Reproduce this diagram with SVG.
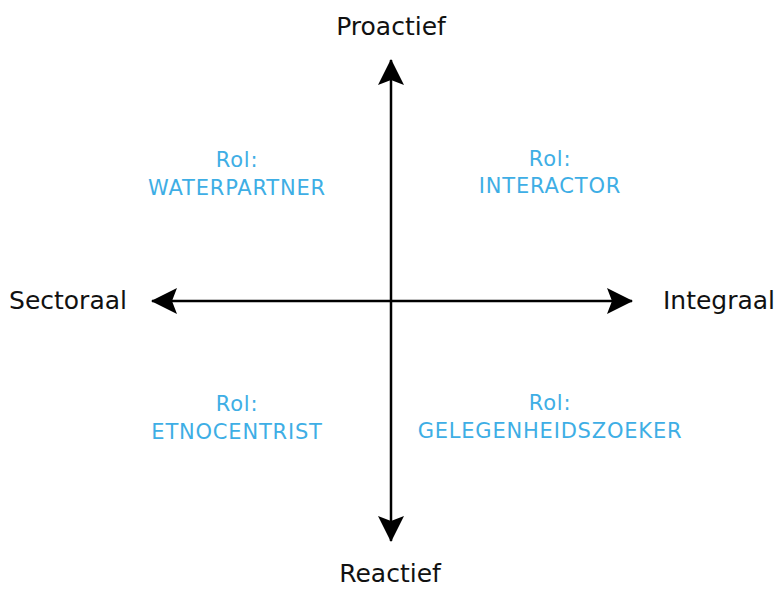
<svg xmlns="http://www.w3.org/2000/svg" width="779" height="590" viewBox="0 0 779 590">
<style>
.ax{font-family:"DejaVu Sans","Liberation Sans",sans-serif;font-size:25px;fill:#111;text-anchor:middle}
.role{font-family:"DejaVu Sans","Liberation Sans",sans-serif;font-size:21px;fill:#3eaee5;text-anchor:middle;letter-spacing:0.8px}
.axis{stroke:#000;stroke-width:2.5;fill:none}
</style>
<defs>
<marker id="ah" viewBox="0 0 26 26" refX="25" refY="13" markerWidth="26" markerHeight="26" markerUnits="userSpaceOnUse" orient="auto">
<path d="M0,0 L26,13 L0,26 L5,13 Z" fill="#000"/>
</marker>
</defs>
<rect width="779" height="590" fill="#fff"/>
<g id="connectors">
<line class="axis" x1="391" y1="301" x2="391" y2="60" marker-end="url(#ah)"/>
<line class="axis" x1="391" y1="301" x2="391" y2="541" marker-end="url(#ah)"/>
<line class="axis" x1="391" y1="301" x2="152" y2="301" marker-end="url(#ah)"/>
<line class="axis" x1="391" y1="301" x2="632" y2="301" marker-end="url(#ah)"/>
</g>
<g id="proactief"><text class="ax" x="391" y="35">Proactief</text></g>
<g id="reactief"><text class="ax" x="390" y="582">Reactief</text></g>
<g id="sectoraal"><text class="ax" x="68" y="309">Sectoraal</text></g>
<g id="integraal"><text class="ax" x="719" y="309">Integraal</text></g>
<g id="waterpartner"><text class="role" x="237" y="167">Rol:</text><text class="role" x="237" y="195">WATERPARTNER</text></g>
<g id="interactor"><text class="role" x="550" y="166">Rol:</text><text class="role" x="550" y="193">INTERACTOR</text></g>
<g id="etnocentrist"><text class="role" x="237" y="411">Rol:</text><text class="role" x="237" y="439">ETNOCENTRIST</text></g>
<g id="gelegenheidszoeker"><text class="role" x="550" y="410">Rol:</text><text class="role" x="550" y="438">GELEGENHEIDSZOEKER</text></g>
</svg>
